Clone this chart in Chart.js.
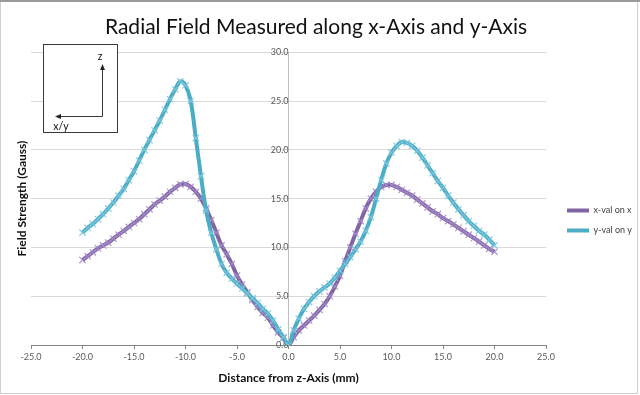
<!DOCTYPE html>
<html><head><meta charset="utf-8">
<script src="https://cdn.jsdelivr.net/npm/chart.js@4/dist/chart.umd.min.js"></script>
<style>html,body{margin:0;padding:0;background:#fff;overflow:hidden}#wrap{width:640px;height:395px;position:relative}canvas{display:block}</style>
</head><body><div id="wrap"><canvas id="c" width="640" height="395"></canvas></div>
<script>
const distances = [-20,-19.5,-19,-18.5,-18,-17.5,-17,-16.5,-16,-15.5,-15,-14.5,-14,-13.5,-13,-12.5,-12,-11.5,-11,-10.5,-10,-9.5,-9,-8.5,-8,-7.5,-7,-6.5,-6,-5.5,-5,-4.5,-4,-3.5,-3,-2.5,-2,-1.5,-1,-0.5,0,0.5,1,1.5,2,2.5,3,3.5,4,4.5,5,5.5,6,6.5,7,7.5,8,8.5,9,9.5,10,10.5,11,11.5,12,12.5,13,13.5,14,14.5,15,15.5,16,16.5,17,17.5,18,18.5,19,19.5,20];
const xValOnX = [8.7,9.1,9.5,9.9,10.2,10.5,10.9,11.3,11.7,12.1,12.5,12.9,13.4,13.9,14.4,14.8,15.2,15.7,16.1,16.45,16.5,16.2,15.7,15.0,14.0,12.8,11.5,10.2,9.3,8.3,7.1,6.2,5.4,4.6,3.9,3.3,2.8,2.0,1.3,0.7,0.0,0.8,1.5,2.0,2.5,3.0,3.6,4.2,5.0,6.0,7.1,8.6,10.0,11.4,12.7,14.0,15.0,15.7,16.2,16.4,16.4,16.2,15.9,15.6,15.3,14.9,14.5,14.1,13.7,13.4,13.0,12.7,12.35,12.0,11.65,11.3,10.95,10.6,10.2,9.85,9.55];
const yValOnY = [11.5,12.0,12.4,12.9,13.4,14.0,14.6,15.3,16.0,16.9,17.8,18.9,20.0,21.0,22.0,23.0,24.1,25.2,26.2,27.0,26.6,25.0,21.2,17.3,13.8,11.5,9.8,8.3,7.4,6.8,6.3,5.8,5.3,4.8,4.3,3.7,3.2,2.5,1.6,0.8,0.0,1.5,2.7,3.7,4.4,5.0,5.5,5.9,6.3,6.9,7.6,8.3,9.0,9.8,10.6,11.7,13.1,15.0,16.9,18.6,19.7,20.4,20.8,20.7,20.4,19.9,19.2,18.4,17.6,16.8,16.1,15.3,14.6,13.9,13.3,12.7,12.2,11.7,11.3,10.8,10.2];
const seriesNames = ['x-val on x','y-val on y'];
const chartTitle = 'Radial Field Measured along x-Axis and y-Axis';
const xTitle = 'Distance from z-Axis (mm)';
const yTitle = 'Field Strength (Gauss)';
const xRange = [-25, 25];
const yRange = [0, 30];
const tickStep = 5;

const pts = arr => distances.map((d, i) => ({x: d, y: arr[i]}));
const FONT = 'Lato, "Open Sans", sans-serif';

const framePlugin = {
  id: 'frame',
  afterLayout(chart) {
    const lg = chart.legend;
    if (lg) { lg.left += 10; lg.right += 10; lg.top += 23; lg.bottom += 23; }
  },
  beforeDraw(chart) {
    const c = chart.ctx;
    c.save(); c.fillStyle = '#fff'; c.fillRect(0, 0, chart.width, chart.height); c.restore();
  },
  afterDraw(chart) {
    const c = chart.ctx;
    c.save();
    c.strokeStyle = '#cfcfcf'; c.lineWidth = 1;
    c.strokeRect(0.5, 0.5, chart.width - 3, chart.height - 2);
    c.strokeStyle = '#9a9a9a'; c.lineWidth = 2;
    c.beginPath(); c.moveTo(0, 1); c.lineTo(chart.width, 1); c.stroke();
    c.fillStyle = '#fff'; c.fillRect(43, 44, 75, 88);
    c.strokeStyle = '#3a3a3a'; c.lineWidth = 1;
    c.strokeRect(43.5, 44.5, 74, 88);
    c.beginPath();
    c.moveTo(102.5, 116.5); c.lineTo(102.5, 68);
    c.moveTo(102.5, 116.5); c.lineTo(59, 116.5);
    c.stroke();
    c.fillStyle = '#222';
    c.beginPath(); c.moveTo(102.5, 64); c.lineTo(100, 70); c.lineTo(105, 70); c.closePath(); c.fill();
    c.beginPath(); c.moveTo(55, 116.5); c.lineTo(61, 114); c.lineTo(61, 119); c.closePath(); c.fill();
    c.font = '10.5px ' + FONT; c.fillStyle = '#111'; c.textAlign = 'center'; c.textBaseline = 'middle';
    c.fillText('z', 100, 57);
    c.fillText('x/y', 61, 127);
    c.restore();
  }
};

new Chart(document.getElementById('c'), {
  type: 'line',
  data: {
    datasets: [
      {label: seriesNames[0], data: pts(xValOnX), borderColor: '#8064a2', backgroundColor: '#8064a2',
       borderWidth: 4, pointStyle: 'crossRot', pointRadius: 4.5, pointBorderWidth: 1.2,
       pointBorderColor: 'rgba(165,140,205,0.9)', pointBackgroundColor: 'rgba(0,0,0,0)', tension: 0.4, order: 1},
      {label: seriesNames[1], data: pts(yValOnY), borderColor: '#4bacc6', backgroundColor: '#4bacc6',
       borderWidth: 4, pointStyle: 'crossRot', pointRadius: 4.5, pointBorderWidth: 1.2,
       pointBorderColor: 'rgba(125,200,222,0.9)', pointBackgroundColor: 'rgba(0,0,0,0)', tension: 0.4, order: 0}
    ]
  },
  options: {
    responsive: false,
    animation: false,
    devicePixelRatio: 1,
    layout: {padding: {left: 0, right: 8, top: 0, bottom: 0}},
    plugins: {
      tooltip: {enabled: false},
      title: {display: true, text: chartTitle, color: '#111', font: {family: FONT, size: 21, weight: '400'}, padding: {top: 15, bottom: 12}},
      legend: {
        position: 'right', align: 'center',
        labels: {
          boxWidth: 22, boxHeight: 4, padding: 11, color: '#404040',
          font: {family: FONT, size: 9},
          sort: (a, b) => a.datasetIndex - b.datasetIndex,
          generateLabels(chart) {
            return chart.data.datasets.map((ds, i) => ({
              text: ds.label, fillStyle: ds.borderColor, strokeStyle: ds.borderColor, lineWidth: 0,
              hidden: false, datasetIndex: i, fontColor: '#404040'
            }));
          }
        }
      }
    },
    scales: {
      x: {
        type: 'linear', position: 'bottom', min: xRange[0], max: xRange[1],
        ticks: {stepSize: tickStep, color: '#595959', font: {family: FONT, size: 9}, padding: 3, maxRotation: 0,
                callback: v => Number(v).toFixed(1)},
        grid: {display: true, drawOnChartArea: false, drawTicks: true, tickLength: 4, color: '#868686'},
        border: {display: true, color: '#868686'},
        title: {display: true, text: xTitle, color: '#111', font: {family: FONT, size: 12, weight: 'bold'}, padding: {top: 4, bottom: 10}},
        afterFit(s) { s.height = 50; }
      },
      y: {
        type: 'linear', position: {x: 0}, min: yRange[0], max: yRange[1],
        ticks: {stepSize: tickStep, color: '#595959', font: {family: FONT, size: 9}, padding: 4,
                callback: v => Number(v).toFixed(1)},
        grid: {color: '#d9d9d9', lineWidth: 1, tickLength: 4, drawTicks: true},
        border: {display: true, color: '#bdbdbd'}
      },
      yTitleAxis: {
        type: 'linear', position: 'left', min: yRange[0], max: yRange[1],
        ticks: {display: false}, grid: {display: false, drawTicks: false}, border: {display: false},
        title: {display: true, text: yTitle, color: '#111', font: {family: FONT, size: 12, weight: 'bold'}, padding: {top: 15, bottom: 0}},
        afterFit(s) { s.width = 31; }
      }
    }
  },
  plugins: [framePlugin]
});
</script>
</body></html>
